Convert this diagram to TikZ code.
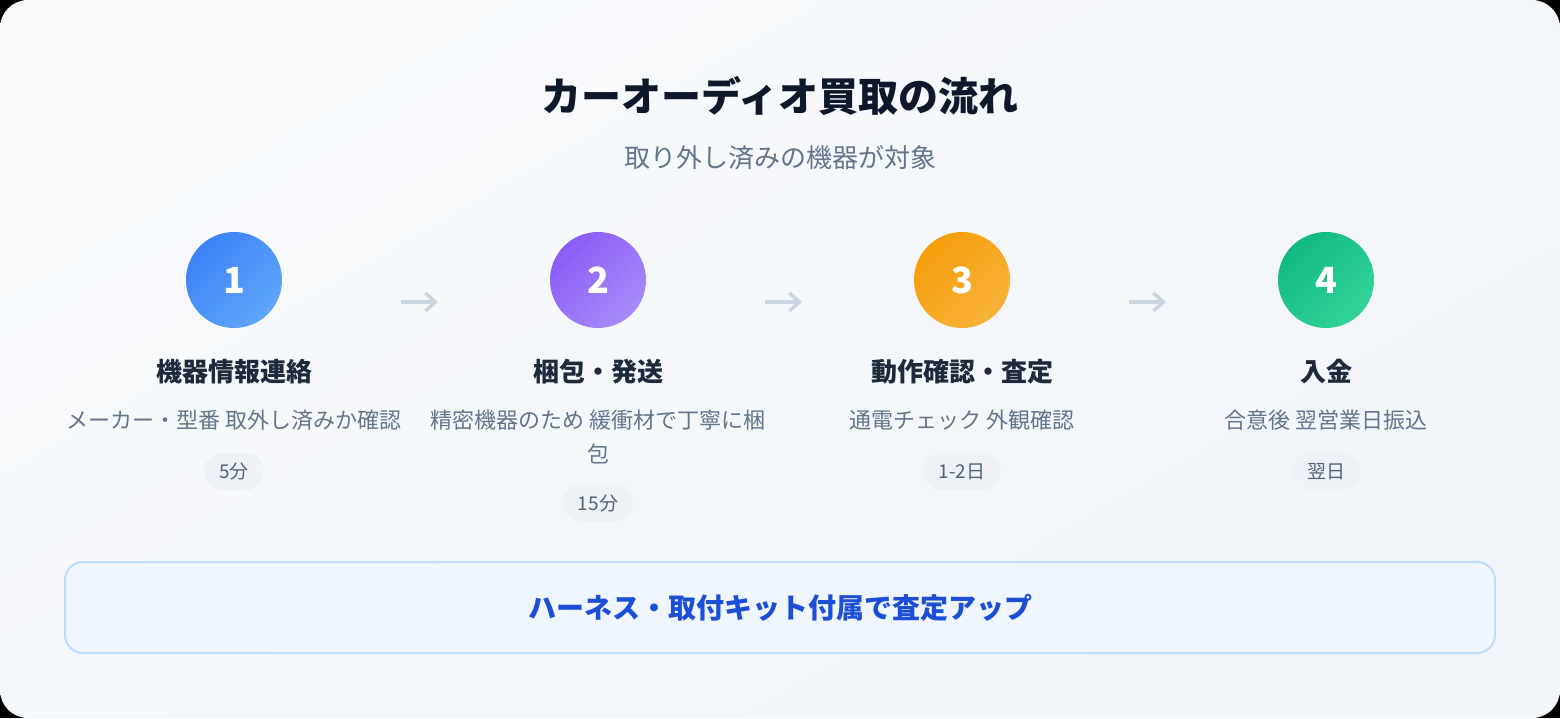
\documentclass[tikz,border=0pt]{standalone}
\usepackage{fontspec}
\setmainfont{Noto Sans CJK JP}
\usetikzlibrary{arrows.meta}
\definecolor{bgA}{HTML}{F8FAFC}
\definecolor{bgB}{HTML}{F1F5F9}
\definecolor{ttl}{HTML}{0F172A}
\definecolor{sub}{HTML}{64748B}
\definecolor{stt}{HTML}{1E293B}
\definecolor{badgebg}{HTML}{EEF2F6}
\definecolor{badgetx}{HTML}{52627A}
\definecolor{arr}{HTML}{CBD5E1}
\definecolor{bA1}{HTML}{3B82F6}\definecolor{bA2}{HTML}{60A5FA}
\definecolor{pA1}{HTML}{8B5CF6}\definecolor{pA2}{HTML}{A78BFA}
\definecolor{oA1}{HTML}{F59E0B}\definecolor{oA2}{HTML}{F7B23B}
\definecolor{gA1}{HTML}{10B981}\definecolor{gA2}{HTML}{34D399}
\definecolor{tipbg}{HTML}{EFF6FF}
\definecolor{tipbd}{HTML}{BFDBFE}
\definecolor{tiptx}{HTML}{1D4ED8}
\tikzset{
  numcirc/.style 2 args={circle, minimum size=96pt, inner sep=0pt, top color=#1, bottom color=#2, shading angle=45, text=white, font=\fontsize{36}{40}\selectfont\bfseries},
  steptitle/.style={inner sep=0pt, text=stt, font=\fontsize{26}{30}\selectfont\bfseries},
  stepdesc/.style={inner sep=0pt, text=sub, align=center, font=\fontsize{22}{34}\selectfont},
  badge/.style={rounded corners=18pt, fill=badgebg, text=badgetx, inner xsep=15pt, inner ysep=0pt, minimum height=37pt, font=\fontsize{19}{22}\selectfont},
  flowarrow/.style={draw=arr, line width=3.5pt, -{Straight Barb[length=10pt,width=18pt,line width=3.5pt]}}
}
\begin{document}
\begin{tikzpicture}[x=1pt,y=-1pt]
\fill[black] (0,0) rectangle (1560,718);
\shade[rounded corners=28pt, top color=bgA, bottom color=bgB, shading angle=30] (0,0) rectangle (1560,718);
\useasboundingbox (0,0) rectangle (1560,718);

\node[inner sep=0pt, text=ttl, font=\fontsize{40}{48}\selectfont\bfseries] (title) at (780,96) {カーオーディオ買取の流れ};
\node[inner sep=0pt, text=sub, font=\fontsize{26}{30}\selectfont] (subtitle) at (780,158) {取り外し済みの機器が対象};

% step 1
\node[numcirc={bA1}{bA2}] (c1) at (234,280) {1};
\node[steptitle] (t1) at (234,372) {機器情報連絡};
\node[stepdesc] (d1) at (234,420) {メーカー・型番 取外し済みか確認};
\node[badge] (b1) at (234,471.5) {5分};
% step 2
\node[numcirc={pA1}{pA2}] (c2) at (598,280) {2};
\node[steptitle] (t2) at (598,372) {梱包・発送};
\node[stepdesc, anchor=north] (d2) at (598,410) {精密機器のため 緩衝材で丁寧に梱\\包};
\node[badge] (b2) at (598,503) {15分};
% step 3
\node[numcirc={oA1}{oA2}] (c3) at (962,280) {3};
\node[steptitle] (t3) at (962,372) {動作確認・査定};
\node[stepdesc] (d3) at (962,420) {通電チェック 外観確認};
\node[badge] (b3) at (962,471.5) {1-2日};
% step 4
\node[numcirc={gA1}{gA2}] (c4) at (1326,280) {4};
\node[steptitle] (t4) at (1326,372) {入金};
\node[stepdesc] (d4) at (1326,420) {合意後 翌営業日振込};
\node[badge] (b4) at (1326,471.5) {翌日};

% arrows
\coordinate (a1s) at (401,302); \coordinate (a1e) at (438,302);
\coordinate (a2s) at (765,302); \coordinate (a2e) at (802,302);
\coordinate (a3s) at (1129,302); \coordinate (a3e) at (1166,302);
\draw[flowarrow] (a1s) -- (a1e);
\draw[flowarrow] (a2s) -- (a2e);
\draw[flowarrow] (a3s) -- (a3e);

% tip box
\node[draw=tipbd, line width=2pt, fill=tipbg, rounded corners=18pt, minimum width=1430pt, minimum height=91pt, inner sep=0pt, text=tiptx, font=\fontsize{28}{32}\selectfont\bfseries] (tip) at (780,607.5) {ハーネス・取付キット付属で査定アップ};
\end{tikzpicture}
\end{document}
